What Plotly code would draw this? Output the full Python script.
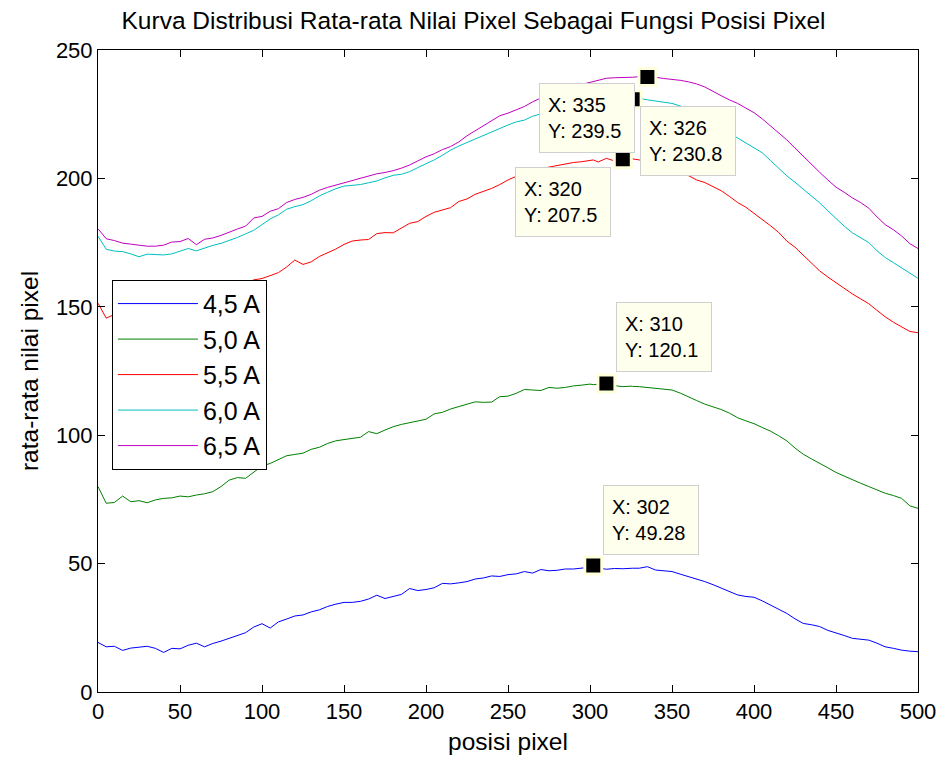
import plotly.graph_objects as go

# pixel positions (every 5 px, plus the two data-tip positions 302 and 326)
X = sorted(list(range(0, 501, 5)) + [302, 326])

LABELS = ["4,5 A", "5,0 A", "5,5 A", "6,0 A", "6,5 A"]
COLORS = ["#0000FF", "#008000", "#FF0000", "#00BFBF", "#BF00BF"]

I_45 = [
    19.3, 17.6, 17.8, 16.2, 17.1, 17.5, 17.8, 17.0, 15.4, 17.0,
    16.8, 18.2, 19.0, 17.6, 18.9, 19.8, 20.9, 21.8, 23.1, 25.3,
    26.6, 24.9, 27.3, 28.4, 29.6, 30.0, 31.2, 32.0, 33.3, 34.2,
    34.9, 34.9, 35.3, 36.2, 37.7, 36.4, 37.3, 38.0, 40.3, 39.5,
    39.9, 40.6, 42.3, 42.1, 42.5, 43.0, 44.0, 44.4, 45.2, 45.0,
    45.7, 46.0, 46.9, 46.3, 47.7, 47.2, 47.4, 47.9, 47.9, 48.2,
    48.6, 49.28, 48.3, 47.8, 48.1, 48.0, 48.3, 48.2, 48.2, 48.8, 47.5, 47.3,
    46.9, 45.9, 45.0, 44.0, 43.0, 41.8, 40.4, 39.0, 37.8, 37.2,
    36.9, 35.5, 33.9, 32.4, 30.6, 28.5, 26.7, 26.2, 25.5, 24.0,
    23.1, 22.0, 20.9, 20.6, 20.2, 19.0, 17.6, 17.0, 16.3, 15.9,
    15.7,
]

I_50 = [
    80.0, 73.5, 73.8, 76.3, 74.1, 74.5, 73.7, 74.8, 75.4, 75.6,
    76.3, 76.0, 76.7, 77.2, 78.0, 80.0, 82.5, 83.5, 83.2, 85.5,
    88.0, 89.0, 90.4, 92.0, 92.5, 93.0, 94.5, 95.3, 96.8, 97.8,
    98.3, 98.8, 99.2, 101.4, 100.6, 102.0, 103.3, 104.2, 104.9, 105.6,
    106.2, 108.3, 108.9, 110.2, 111.1, 112.0, 113.0, 112.8, 112.9, 115.0,
    115.2, 116.3, 117.8, 117.6, 117.4, 118.6, 118.3, 118.6, 119.2, 119.5,
    119.9, 119.7, 119.8, 120.1, 119.3, 118.9, 119.1, 119.0, 118.9, 118.6, 118.2, 118.0,
    117.6, 116.4, 114.8, 113.5, 112.1, 111.2, 110.0, 108.6, 106.8, 105.6,
    104.5, 103.0, 101.6, 99.8, 97.8, 95.0, 92.6, 90.8, 89.2, 87.3,
    85.5, 84.0, 82.6, 81.3, 80.0, 78.7, 77.4, 76.5, 75.4, 72.5,
    71.5,
]

I_55 = [
    151.4, 145.6, 147.0, 146.0, 145.5, 145.0, 145.3, 145.8, 146.5, 147.0,
    148.0, 149.0, 150.5, 151.5, 153.0, 154.5, 156.0, 157.5, 159.0, 160.5,
    161.0, 162.0, 163.3, 165.5, 168.2, 166.5, 167.5, 169.6, 171.0, 172.5,
    174.3, 175.6, 176.0, 176.2, 178.5, 178.9, 178.8, 180.6, 182.5, 183.2,
    185.2, 186.8, 187.7, 188.6, 191.0, 192.0, 193.8, 194.9, 196.1, 197.6,
    199.4, 200.8, 202.0, 203.0, 203.8, 204.4, 205.0, 205.6, 206.2, 206.5,
    207.0, 207.2, 206.4, 207.8, 206.8, 207.5, 207.3, 207.6, 207.2, 206.5, 205.8, 204.6,
    204.0, 202.8, 201.2, 199.4, 198.4, 196.9, 195.2, 193.0, 190.6, 188.8,
    186.5, 184.0, 181.6, 179.0, 175.6, 173.2, 170.0, 167.0, 164.0, 161.6,
    159.3, 157.2, 155.0, 153.1, 151.2, 148.6, 146.1, 144.0, 142.2, 140.4,
    139.9,
]

I_60 = [
    177.5, 172.4, 171.7, 171.5, 170.6, 169.5, 170.5, 170.3, 170.2, 170.6,
    171.6, 172.7, 171.8, 173.0, 173.9, 174.7, 175.8, 177.0, 178.4, 179.8,
    182.0, 184.2, 185.8, 188.0, 189.0, 189.8, 191.3, 193.2, 194.6, 196.0,
    197.0, 197.2, 197.6, 198.3, 199.0, 200.2, 201.2, 201.6, 202.6, 204.2,
    205.6, 207.2, 209.0, 211.0, 212.6, 214.0, 215.5, 216.8, 218.0, 219.6,
    220.8, 222.0, 222.7, 224.2, 225.2, 226.2, 227.0, 227.8, 228.6, 229.2,
    229.6, 229.8, 230.0, 230.3, 230.5, 230.7, 230.8, 230.8, 231.2, 230.6, 230.2, 229.6,
    229.2, 228.2, 227.0, 225.3, 223.4, 221.2, 219.5, 217.6, 215.8, 213.8,
    212.0, 210.0, 207.0, 204.0, 201.0, 198.5, 195.8, 193.3, 190.5, 187.4,
    184.2, 181.4, 178.8, 176.8, 175.0, 171.8, 169.2, 167.2, 165.2, 163.0,
    161.1,
]

I_65 = [
    180.4, 176.5, 175.8, 174.8, 174.4, 173.9, 173.6, 173.6, 174.0, 175.2,
    175.4, 176.6, 174.2, 176.3, 176.8, 177.8, 179.2, 180.3, 181.4, 184.6,
    185.2, 187.2, 188.2, 190.6, 191.8, 192.6, 193.8, 195.4, 196.5, 197.4,
    198.2, 199.0, 199.8, 201.0, 201.8, 202.3, 203.0, 204.0, 205.2, 206.8,
    208.4, 209.6, 211.2, 212.4, 214.2, 216.6, 218.6, 220.6, 222.4, 224.4,
    225.4, 226.6, 228.0, 229.8, 231.4, 232.8, 233.8, 234.6, 235.6, 236.6,
    237.4, 237.8, 238.4, 239.0, 239.2, 239.2, 239.4, 239.4, 239.6, 239.5, 239.4, 238.9,
    238.6, 238.2, 237.6, 236.8, 235.6, 233.8, 232.2, 230.6, 229.2, 227.4,
    225.6, 223.2, 220.4, 217.8, 215.0, 211.8, 208.6, 205.3, 202.4, 199.4,
    196.6, 194.6, 192.4, 190.6, 188.4, 185.0, 182.0, 180.0, 177.6, 174.6,
    172.7,
]

SERIES = [I_45, I_50, I_55, I_60, I_65]

# data tips
TIP_X = [302, 310, 320, 326, 335]
TIP_Y = [49.28, 120.1, 207.5, 230.8, 239.5]
TIP_TXT = ["49.28", "120.1", "207.5", "230.8", "239.5"]

FONT = "Liberation Sans, Arial, sans-serif"

fig = go.Figure()
for lbl, col, ys in zip(LABELS, COLORS, SERIES):
    fig.add_trace(go.Scatter(
        x=X, y=ys, mode="lines", name=lbl,
        line=dict(color=col, width=1),
    ))

fig.add_trace(go.Scatter(
    x=TIP_X, y=TIP_Y, mode="markers", showlegend=False,
    marker=dict(symbol="square", size=17, color="black",
                line=dict(color="#FFFFDC", width=3)),
))

# label box placement relative to each marker
tip_pos = {
    302: dict(xanchor="left", yanchor="bottom", xshift=10, yshift=10),
    310: dict(xanchor="left", yanchor="bottom", xshift=10, yshift=12),
    320: dict(xanchor="right", yanchor="top", xshift=-12, yshift=-8),
    326: dict(xanchor="left", yanchor="top", xshift=7, yshift=-7),
    335: dict(xanchor="right", yanchor="top", xshift=-12, yshift=-6),
}
for tx, ty, tt in zip(TIP_X, TIP_Y, TIP_TXT):
    fig.add_annotation(
        x=tx, y=ty, text=f"X: {tx}<br>Y: {tt}", showarrow=False, align="left",
        font=dict(family=FONT, size=20, color="black"),
        bgcolor="#FFFFEE", bordercolor="#CFCFCF", borderwidth=1, borderpad=8,
        width=78, height=52, **tip_pos[tx],
    )

axis_common = dict(
    showline=True, linecolor="black", linewidth=1, mirror="ticks",
    ticks="inside", ticklen=7, tickcolor="black", tickwidth=1,
    showgrid=False, zeroline=False, automargin=False,
    tickfont=dict(family=FONT, size=22, color="black"),
)

# page body has an 8px margin, so the figure is sized to fit inside it
fig.update_layout(
    width=931, height=747,
    margin=dict(l=90, r=21, t=42, b=63),
    paper_bgcolor="white", plot_bgcolor="white",
    title=dict(text="Kurva Distribusi Rata-rata Nilai Pixel Sebagai Fungsi Posisi Pixel",
               x=0.5, xanchor="center", y=0.984, yanchor="middle",
               font=dict(family=FONT, size=24.5, color="black")),
    xaxis=dict(range=[0, 500], tickvals=list(range(0, 501, 50)),
               title=dict(text="posisi pixel", font=dict(family=FONT, size=24.5, color="black"),
                          standoff=12),
               **axis_common),
    yaxis=dict(range=[0, 250], tickvals=list(range(0, 251, 50)),
               title=dict(text="rata-rata nilai pixel", font=dict(family=FONT, size=24.5, color="black"),
                          standoff=10),
               **axis_common),
    legend=dict(x=0.017, y=0.642, xanchor="left", yanchor="top",
                bgcolor="white", bordercolor="black", borderwidth=1,
                font=dict(family=FONT, size=25, color="black"),
                itemwidth=80, tracegroupgap=0),
    showlegend=True,
)

fig.write_html("out.html")
